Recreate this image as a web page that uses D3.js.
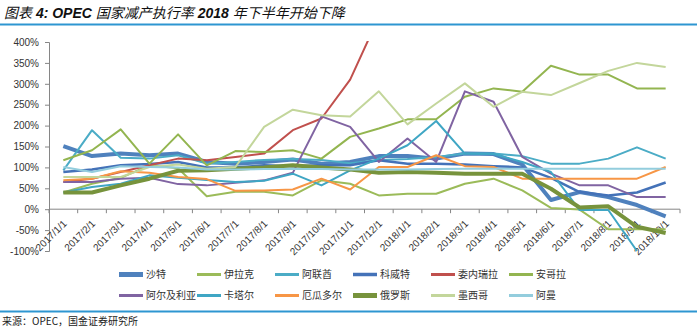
<html>
<head>
<meta charset="utf-8">
<script src="https://d3js.org/d3.v7.min.js"></script>
<title>OPEC 国家减产执行率</title>
<style type="text/css">
	body {
		margin: 0;
		background: #fff;
	}
	#chart {
		width: 700px;
		height: 327px;
	}
	text {
		font-family: "Liberation Sans", "Noto Sans CJK SC", sans-serif;
		fill: #333;
	}
</style>
</head>
<body>

<div id="chart"></div>

<script>
// months on the x axis
var months = ["2017/1/1","2017/2/1","2017/3/1","2017/4/1","2017/5/1","2017/6/1","2017/7/1","2017/8/1",
	"2017/9/1","2017/10/1","2017/11/1","2017/12/1","2018/1/1","2018/2/1","2018/3/1","2018/4/1",
	"2018/5/1","2018/6/1","2018/7/1","2018/8/1","2018/9/1","2018/10/1"];

// compliance rate, %
var saudi     = [151,127,133,129,133,113,109,113,119,109,113,127,127,121,133,132,107,22,41,29,10,-17];
var iraq      = [40,61,75,105,98,31,42,42,33,69,61,33,37,37,61,73,45,3,-1,-48,-48,-48];
var uae       = [93,189,123,121,129,109,113,118,120,118,110,118,120,125,133,133,127,109,109,121,148,121];
var kuwait    = [89,95,105,108,113,100,100,105,103,105,105,117,109,109,107,103,100,75,41,33,40,64];
var venezuela = [65,73,89,105,121,117,125,133,189,217,310,460,null,null,null,null,null,null,null,null,null,null];
var angola    = [117,141,191,109,179,105,139,137,141,121,173,193,215,215,269,289,281,343,322,322,289,289];
var algeria   = [65,65,73,75,60,57,63,69,87,222,197,113,169,113,282,257,125,85,57,57,29,29];
var qatar     = [40,53,61,81,75,70,65,68,85,57,93,121,153,211,133,132,113,89,-2,-2,-100,null];
var ecuador   = [69,73,91,87,77,72,44,45,47,73,47,101,101,129,103,101,73,73,73,73,73,101];
var russia    = [40,40,57,73,92,93,97,100,105,100,95,87,89,87,85,85,85,49,4,7,-42,-57];
var mexico    = [77,77,77,101,107,97,101,197,238,225,222,282,203,253,301,245,281,273,302,331,350,340];
var oman      = [101,89,103,101,100,95,95,96,96,96,95,95,95,96,97,97,97,97,97,97,97,97];

var names  = ["沙特","伊拉克","阿联酋","科威特","委内瑞拉","安哥拉","阿尔及利亚","卡塔尔","厄瓜多尔","俄罗斯","墨西哥","阿曼"];
var values = [saudi, iraq, uae, kuwait, venezuela, angola, algeria, qatar, ecuador, russia, mexico, oman];
var yTicks = [-100,-50,0,50,100,150,200,250,300,350,400];

// styles per series
var colors = ["#4F81BD","#9BBB59","#4BACC6","#4472B8","#C0504D","#93B550","#8064A2","#3FA6C4","#F79646","#77933C","#C3D69B","#93CDDD"];
var widths = [4, 2, 2, 2.5, 2, 2, 2, 2, 2, 4, 2, 2];

function draw() {
	var W = 700, H = 327;
	var svg = d3.select('#chart')
		.append('svg')
		.attr("width", W)
		.attr("height", H);

	var blue = "#2E96D1";

	// title
	var title = svg.append("text")
		.attr("x", 4)
		.attr("y", 18)
		.style("font-size", "14px")
		.style("font-style", "italic")
		.style("fill", "#111");
	title.append("tspan").text("图表").style("font-family", "Noto Sans CJK SC");
	title.append("tspan").text(" 4:  OPEC ").style("font-weight", "bold");
	title.append("tspan").text("国家减产执行率").style("font-family", "Noto Sans CJK SC");
	title.append("tspan").text(" 2018 ").style("font-weight", "bold");
	title.append("tspan").text("年下半年开始下降").style("font-family", "Noto Sans CJK SC");

	svg.append("line")
		.attr("x1", 0).attr("x2", 697)
		.attr("y1", 24.5).attr("y2", 24.5)
		.attr("stroke", blue).attr("stroke-width", 2);

	// scales
	var x = d3.scalePoint().domain(months).range([49, 680]).padding(0.5);
	var y = d3.scaleLinear().domain([-100, 400]).range([251, 42]);
	var step = x.step();

	// clip to plot area
	svg.append("clipPath").attr("id", "clip")
		.append("rect")
		.attr("x", 49).attr("y", y(400) - 1)
		.attr("width", 632).attr("height", y(-100) - y(400) + 2);

	// y axis
	var yAxis = svg.append("g")
		.attr("transform", "translate(49,0)")
		.call(d3.axisLeft(y).tickValues(yTicks).tickFormat(function(d) { return d + "%"; }).tickSize(4).tickPadding(6));
	yAxis.selectAll("path, line").attr("stroke", "#868686");
	yAxis.selectAll("text").style("font-size", "10px").style("fill", "#333")
		.style("font-family", "Liberation Sans");

	// x axis at 0%
	var xg = svg.append("g");
	xg.append("line")
		.attr("x1", 49).attr("x2", 680)
		.attr("y1", y(0)).attr("y2", y(0))
		.attr("stroke", "#868686");
	xg.selectAll(".tick")
		.data(d3.range(months.length + 1))
		.enter().append("line")
		.attr("x1", function(i) { return 49 + i * step; })
		.attr("x2", function(i) { return 49 + i * step; })
		.attr("y1", y(0)).attr("y2", y(0) + 4)
		.attr("stroke", "#868686");
	xg.selectAll(".lab")
		.data(months)
		.enter().append("text")
		.attr("text-anchor", "end")
		.attr("transform", function(d) { return "translate(" + (x(d) + 4) + "," + (y(0) + 15) + ") rotate(-45)"; })
		.style("font-size", "10px")
		.style("font-family", "Liberation Sans")
		.text(function(d) { return d; });

	// lines
	var line = d3.line()
		.defined(function(d) { return d != null; })
		.x(function(d, i) { return x(months[i]); })
		.y(function(d) { return y(d); });

	svg.append("g").attr("clip-path", "url(#clip)")
		.selectAll("path")
		.data(values)
		.enter().append("path")
		.attr("d", line)
		.attr("fill", "none")
		.attr("stroke", function(d, i) { return colors[i]; })
		.attr("stroke-width", function(d, i) { return widths[i]; })
		.attr("stroke-linejoin", "round");

	// legend, two rows of six
	var lg = svg.append("g").selectAll("g")
		.data(names)
		.enter().append("g")
		.attr("transform", function(d, i) { return "translate(" + (119 + (i % 6) * 78) + "," + (i < 6 ? 274.5 : 295.5) + ")"; });
	lg.append("line")
		.attr("x1", 0).attr("x2", 24)
		.attr("stroke", function(d, i) { return colors[i]; })
		.attr("stroke-width", function(d, i) { return widths[i] + 1; });
	lg.append("text")
		.attr("x", 27).attr("y", 3.5)
		.style("font-size", "10px")
		.style("font-family", "Noto Sans CJK SC")
		.text(function(d) { return d; });

	// source
	svg.append("line")
		.attr("x1", 0).attr("x2", 697)
		.attr("y1", 311.5).attr("y2", 311.5)
		.attr("stroke", blue).attr("stroke-width", 2);
	svg.append("text")
		.attr("x", 2).attr("y", 325)
		.style("font-size", "10px")
		.style("font-family", "Noto Sans CJK SC")
		.style("fill", "#222")
		.text("来源：OPEC，国金证券研究所");
}

draw();
</script>
</body>
</html>
